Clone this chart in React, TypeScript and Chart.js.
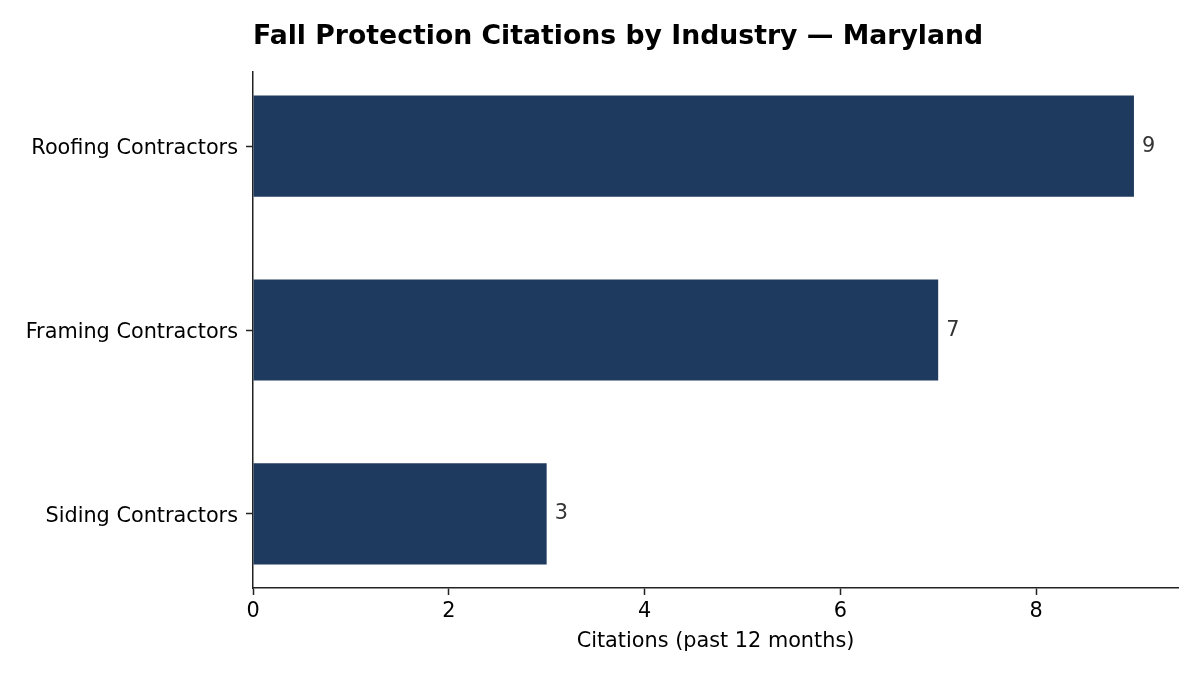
import React, { useEffect, useRef } from "react";
import { Chart, registerables } from "chart.js";

Chart.register(...registerables);

const TITLE = "Fall Protection Citations by Industry — Maryland";
const X_LABEL = "Citations (past 12 months)";
const categories = ["Roofing Contractors", "Framing Contractors", "Siding Contractors"];
const citations = [9, 7, 3];
const xTicks = [0, 2, 4, 6, 8];

const FONT = "'DejaVu Sans', sans-serif";
const BAR_COLOR = "#1f3a5f";
const AXIS_COLOR = "#222222";

export default function App() {
  const ref = useRef<HTMLCanvasElement | null>(null);

  useEffect(() => {
    const canvas = ref.current;
    if (!canvas) return;

    const overlay = {
      id: "overlay",
      afterDraw(chart: any) {
        const ctx = chart.ctx;
        const area = chart.chartArea;
        ctx.save();
        // title
        ctx.font = `bold 26.7px ${FONT}`;
        ctx.fillStyle = "#000";
        ctx.textAlign = "left";
        ctx.textBaseline = "alphabetic";
        ctx.fillText(TITLE, area.left, 43.5);
        // x axis label
        ctx.font = `20.8px ${FONT}`;
        ctx.textAlign = "center";
        ctx.fillText(X_LABEL, (area.left + area.right) / 2, 647);
        // value labels
        const meta = chart.getDatasetMeta(0);
        ctx.font = `20.8px ${FONT}`;
        ctx.fillStyle = "#333333";
        ctx.textAlign = "left";
        meta.data.forEach((bar: any, i: number) => {
          ctx.fillText(String(citations[i]), bar.x + 8, bar.y + 5.5);
        });
        ctx.restore();
      },
    };

    const chart = new Chart(canvas, {
      type: "bar",
      data: {
        datasets: [
          {
            data: citations.map((v, i) => ({ x: v, y: i })),
            backgroundColor: BAR_COLOR,
            borderWidth: 0,
            barPercentage: 0.55,
            categoryPercentage: 1,
          },
        ],
      },
      options: {
        indexAxis: "y",
        responsive: false,
        animation: false,
        layout: { padding: { top: 72, right: 22, bottom: 0, left: 0 } },
        plugins: {
          legend: { display: false },
          title: { display: false },
          tooltip: { enabled: false },
        },
        scales: {
          y: {
            type: "linear",
            reverse: true,
            offset: false,
            min: -0.4025,
            max: 2.4025,
            afterBuildTicks(scale: any) {
              scale.ticks = categories.map((_, i) => ({ value: i }));
            },
            afterFit(scale: any) {
              scale.width = 253;
            },
            ticks: {
              callback: (v: any) => categories[v as number] ?? "",
              font: { family: FONT, size: 20.8 },
              color: "#000",
              padding: 8,
              labelOffset: 2.5,
            },
            grid: {
              display: true,
              offset: false,
              drawOnChartArea: false,
              drawTicks: true,
              tickLength: 7,
              tickWidth: 1.5,
              color: AXIS_COLOR,
            },
            border: { display: true, color: AXIS_COLOR, width: 1.5 },
          },
          x: {
            type: "linear",
            min: 0,
            max: 9.45,
            afterBuildTicks(scale: any) {
              scale.ticks = xTicks.map((v) => ({ value: v }));
            },
            afterFit(scale: any) {
              scale.height = 87;
            },
            ticks: {
              font: { family: FONT, size: 20.8, lineHeight: 1 },
              color: "#000",
              padding: 6,
            },
            grid: {
              display: true,
              drawOnChartArea: false,
              drawTicks: true,
              tickLength: 7,
              tickWidth: 1.5,
              color: AXIS_COLOR,
            },
            border: { display: true, color: AXIS_COLOR, width: 1.5 },
          },
        },
      },
      plugins: [overlay],
    });
    return () => chart.destroy();
  }, []);

  return (
    <div style={{ position: "absolute", left: 0, top: 0, width: 1200, height: 675, background: "#fff" }}>
      <canvas ref={ref} width={1200} height={675} style={{ width: 1200, height: 675, display: "block" }} />
    </div>
  );
}
